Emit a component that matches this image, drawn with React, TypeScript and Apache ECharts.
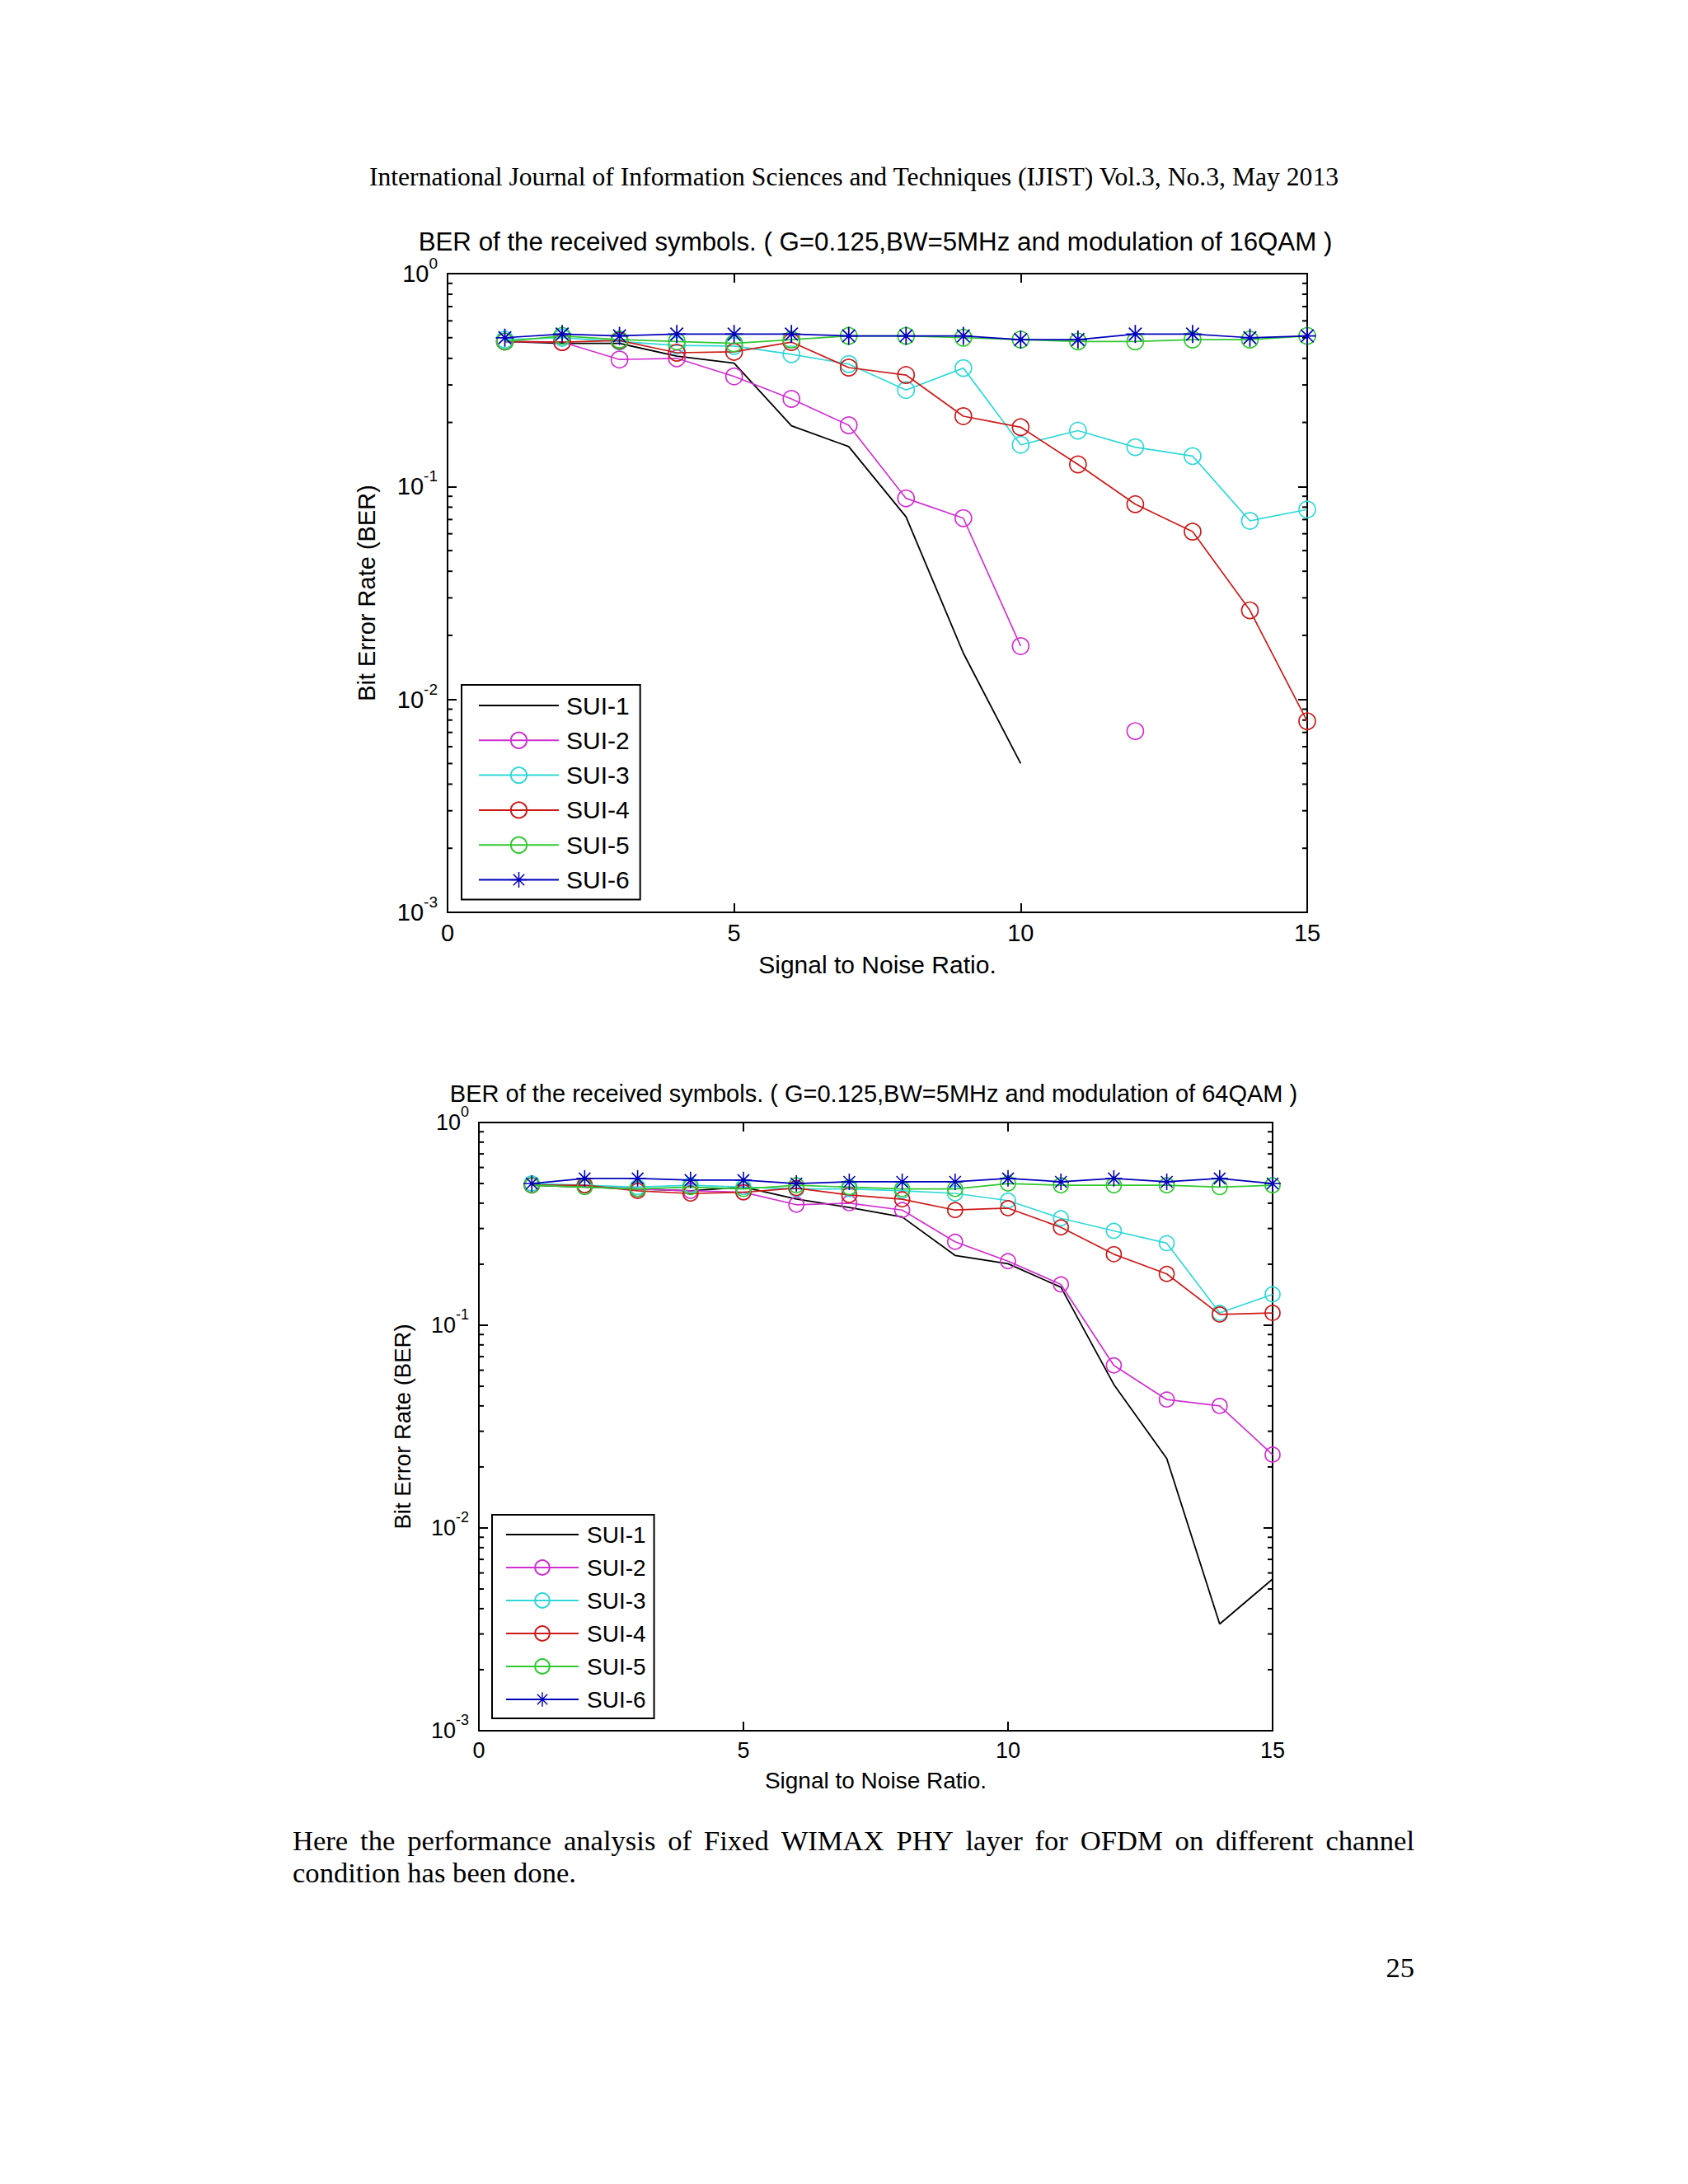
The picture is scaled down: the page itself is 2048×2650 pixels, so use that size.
import React, { useEffect, useRef } from 'react';
import * as echarts from 'echarts';

// ---------------- data ----------------
const snr = [1, 2, 3, 4, 5, 6, 7, 8, 9, 10, 11, 12, 13, 14, 15];
const seriesNames = ['SUI-1', 'SUI-2', 'SUI-3', 'SUI-4', 'SUI-5', 'SUI-6'];

// 16QAM (top chart)
const sui1_16 = [0.48, 0.47, 0.47, 0.41, 0.38, 0.193, 0.154, 0.072, 0.0165, 0.005, null, null, null, null, null];
const sui2_16 = [0.48, 0.477, 0.395, 0.4, 0.329, 0.258, 0.194, 0.088, 0.071, 0.0178, null, 0.0071, null, null, null];
const sui3_16 = [0.49, 0.5, 0.48, 0.46, 0.457, 0.418, 0.376, 0.284, 0.36, 0.157, 0.183, 0.153, 0.139, 0.069, 0.078];
const sui4_16 = [0.48, 0.477, 0.485, 0.425, 0.429, 0.477, 0.362, 0.334, 0.214, 0.19, 0.127, 0.0826, 0.0614, 0.0262, 0.0079];
const sui5_16 = [0.48, 0.51, 0.49, 0.48, 0.47, 0.49, 0.51, 0.51, 0.5, 0.49, 0.48, 0.48, 0.49, 0.49, 0.51];
const sui6_16 = [0.5, 0.52, 0.51, 0.52, 0.52, 0.52, 0.51, 0.51, 0.51, 0.49, 0.49, 0.52, 0.52, 0.5, 0.51];

// 64QAM (bottom chart)
const sui1_64 = [0.49, 0.48, 0.47, 0.46, 0.48, 0.419, 0.381, 0.342, 0.221, 0.201, 0.154, 0.051, 0.022, 0.00336, 0.0056];
const sui2_64 = [0.49, 0.49, 0.47, 0.46, 0.453, 0.393, 0.4, 0.37, 0.258, 0.207, 0.159, 0.0634, 0.043, 0.04, 0.023];
const sui3_64 = [0.5, 0.49, 0.48, 0.49, 0.48, 0.47, 0.47, 0.46, 0.447, 0.412, 0.337, 0.292, 0.254, 0.115, 0.142];
const sui4_64 = [0.49, 0.49, 0.46, 0.446, 0.453, 0.475, 0.439, 0.418, 0.37, 0.378, 0.304, 0.224, 0.179, 0.113, 0.115];
const sui5_64 = [0.49, 0.48, 0.47, 0.48, 0.47, 0.49, 0.48, 0.47, 0.47, 0.5, 0.49, 0.49, 0.49, 0.48, 0.49];
const sui6_64 = [0.5, 0.53, 0.53, 0.52, 0.52, 0.5, 0.51, 0.51, 0.51, 0.53, 0.51, 0.53, 0.51, 0.53, 0.5];

const minorTickValues = [
  0.002, 0.003, 0.004, 0.005, 0.006, 0.007, 0.008, 0.009,
  0.02, 0.03, 0.04, 0.05, 0.06, 0.07, 0.08, 0.09,
  0.2, 0.3, 0.4, 0.5, 0.6, 0.7, 0.8, 0.9,
];

const headerText = 'International Journal of Information Sciences and Techniques (IJIST) Vol.3, No.3, May 2013';
const title16 = 'BER of the received symbols. ( G=0.125,BW=5MHz and modulation of 16QAM )';
const title64 = 'BER of the received symbols. ( G=0.125,BW=5MHz and modulation of 64QAM )';
const xName = 'Signal to Noise Ratio.';
const yName = 'Bit Error Rate (BER)';
const bodyLine1 = 'Here the performance analysis of Fixed WIMAX PHY layer for OFDM on different channel';
const bodyLine2 = 'condition has been done.';
const pageNumber = '25';

// ---------------- styles ----------------
const SANS = '"Liberation Sans", Arial, Helvetica, sans-serif';
const SERIF = '"Liberation Serif", "Times New Roman", serif';
const colors = ['#000000', '#d030d0', '#30d8d8', '#cc1a1a', '#30c830', '#0000bb'];
const STAR =
  'path://M46 0H54V100H46Z M0 46H100V54H0Z M12.2 17.8L17.8 12.2L87.8 82.2L82.2 87.8Z M82.2 12.2L87.8 17.8L17.8 87.8L12.2 82.2Z';

function measure(text: string, font: string) {
  const c = document.createElement('canvas').getContext('2d')!;
  c.font = font;
  return c.measureText(text).width;
}
function fitSize(text: string, family: string, target: number) {
  const w = measure(text, `100px ${family}`);
  return (100 * target) / w;
}

type ChartGeom = {
  left: number; top: number; width: number; height: number;
  tickFont: number; supFont: number; nameFont: number; yNameFont: number;
  xNameGap: number; yNameGap: number; symbolSize: number;
  legend: { left: number; top: number; font: number; itemWidth: number; itemHeight: number; itemGap: number; padding: number[]; textPad: number };
};

const geoms: ChartGeom[] = [
  {
    left: 543, top: 332, width: 1043, height: 775,
    tickFont: 29, supFont: 19, nameFont: 30, yNameFont: 29,
    xNameGap: 48, yNameGap: 84, symbolSize: 20,
    legend: { left: 560, top: 831, font: 30, itemWidth: 97, itemHeight: 24, itemGap: 12.3, padding: [10, 13, 9, 20], textPad: 4 },
  },
  {
    left: 581, top: 1362, width: 963, height: 738,
    tickFont: 27, supFont: 18, nameFont: 28, yNameFont: 27.5,
    xNameGap: 46, yNameGap: 79, symbolSize: 18,
    legend: { left: 597, top: 1838, font: 28, itemWidth: 88, itemHeight: 22, itemGap: 12, padding: [10, 10, 9, 16], textPad: 5 },
  },
];

export default function App() {
  const ref = useRef<HTMLDivElement>(null);

  useEffect(() => {
    if (!ref.current) return;
    const chart = echarts.init(ref.current, undefined, { renderer: 'svg' });

    const datasets = [
      [sui1_16, sui2_16, sui3_16, sui4_16, sui5_16, sui6_16],
      [sui1_64, sui2_64, sui3_64, sui4_64, sui5_64, sui6_64],
    ];

    const grids: any[] = [];
    const xAxes: any[] = [];
    const yAxes: any[] = [];
    const series: any[] = [];
    const legends: any[] = [];

    geoms.forEach((g, gi) => {
      grids.push({ left: g.left, top: g.top, width: g.width, height: g.height, containLabel: false });
      const axisLine = { show: true, onZero: false, lineStyle: { color: '#000', width: 2 } };
      const tick = { show: true, inside: true, length: 11, lineStyle: { color: '#000', width: 2 } };
      xAxes.push({
        type: 'value', gridIndex: gi, position: 'bottom', min: 0, max: 15, interval: 5,
        axisLine, axisTick: tick, splitLine: { show: false },
        axisLabel: { color: '#000', fontFamily: SANS, fontSize: g.tickFont, margin: 10 },
        name: xName, nameLocation: 'middle', nameGap: g.xNameGap,
        nameTextStyle: { color: '#000', fontFamily: SANS, fontSize: g.nameFont },
      });
      xAxes.push({
        type: 'value', gridIndex: gi, position: 'top', min: 0, max: 15, interval: 5,
        axisLine, axisTick: tick, splitLine: { show: false }, axisLabel: { show: false },
      });
      yAxes.push({
        type: 'log', logBase: 10, gridIndex: gi, position: 'left', min: 0.001, max: 1,
        axisLine, axisTick: tick, splitLine: { show: false }, minorTick: { show: false },
        axisLabel: {
          margin: 12,
          formatter: (v: number) => `{b|10}{s|${Math.round(Math.log10(v))}}`,
          rich: {
            b: { fontFamily: SANS, fontSize: g.tickFont, color: '#000', lineHeight: 44 },
            s: { fontFamily: SANS, fontSize: g.supFont, color: '#000', lineHeight: 20, verticalAlign: 'top' },
          },
        },
        name: yName, nameLocation: 'middle', nameGap: g.yNameGap, nameRotate: 90,
        nameTextStyle: { color: '#000', fontFamily: SANS, fontSize: g.yNameFont },
      });
      yAxes.push({
        type: 'log', logBase: 10, gridIndex: gi, position: 'right', min: 0.001, max: 1,
        axisLine, axisTick: tick, splitLine: { show: false }, axisLabel: { show: false },
      });

      const xi = gi * 2;
      const yi = gi * 2;

      // minor log ticks (left and right side)
      series.push({
        type: 'custom', name: 'minor-ticks-' + gi, xAxisIndex: xi, yAxisIndex: yi, silent: true, clip: false, z: 1,
        data: minorTickValues.map((v) => [0, v]),
        renderItem: (_p: any, api: any) => {
          const v = api.value(1);
          const l = api.coord([0, v]);
          const r = api.coord([15, v]);
          const len = 6;
          return {
            type: 'group',
            children: [
              { type: 'line', shape: { x1: l[0], y1: l[1], x2: l[0] + len, y2: l[1] }, style: { stroke: '#000', lineWidth: 2 } },
              { type: 'line', shape: { x1: r[0] - len, y1: r[1], x2: r[0], y2: r[1] }, style: { stroke: '#000', lineWidth: 2 } },
            ],
          };
        },
      });

      datasets[gi].forEach((vals, si) => {
        const color = colors[si];
        const isStar = si === 5;
        const isNone = si === 0;
        series.push({
          type: 'line', name: seriesNames[si], xAxisIndex: xi, yAxisIndex: yi, z: 2 + si,
          data: snr.map((x, i) => [x, vals[i] == null ? '-' : vals[i]]),
          connectNulls: false,
          showSymbol: !isNone,
          symbol: isNone ? 'none' : isStar ? STAR : 'circle',
          symbolSize: isStar ? g.symbolSize + 2 : g.symbolSize,
          lineStyle: { color, width: si === 0 ? 1.8 : 1.7 },
          itemStyle: isNone
            ? { color: 'rgba(0,0,0,0)', borderColor: 'rgba(0,0,0,0)', borderWidth: 0 }
            : isStar
            ? { color, borderWidth: 0 }
            : { color: 'rgba(0,0,0,0)', borderColor: color, borderWidth: 1.7 },
          emphasis: { disabled: true },
        });
      });

      const L = g.legend;
      legends.push({
        data: seriesNames, orient: 'vertical', left: L.left, top: L.top,
        itemWidth: L.itemWidth, itemHeight: L.itemHeight, itemGap: L.itemGap,
        padding: L.padding, borderColor: '#000', borderWidth: 2, backgroundColor: '#fff',
        selectedMode: false,
        textStyle: { color: '#000', fontFamily: SANS, fontSize: L.font, lineHeight: L.font, padding: [0, 0, 0, L.textPad] },
      });
    });

    // ---------- page texts ----------
    const graphics: any[] = [];
    const headerSize = fitSize(headerText, SERIF, 1178);
    graphics.push({
      type: 'text', x: 1036, y: 214,
      style: { text: headerText, font: `${headerSize}px ${SERIF}`, fill: '#000', textAlign: 'center', textVerticalAlign: 'middle', align: 'center', verticalAlign: 'middle' },
    });
    const t16 = fitSize(title16, SANS, 1109);
    graphics.push({
      type: 'text', x: 1062, y: 293,
      style: { text: title16, font: `${t16}px ${SANS}`, fill: '#000', textAlign: 'center', textVerticalAlign: 'middle', align: 'center', verticalAlign: 'middle' },
    });
    const t64 = fitSize(title64, SANS, 1029);
    graphics.push({
      type: 'text', x: 1060, y: 1327,
      style: { text: title64, font: `${t64}px ${SANS}`, fill: '#000', textAlign: 'center', textVerticalAlign: 'middle', align: 'center', verticalAlign: 'middle' },
    });

    // body paragraph, first line justified
    const bodySize = fitSize(bodyLine2, SERIF, 344);
    const bodyFont = `${bodySize}px ${SERIF}`;
    const words = bodyLine1.split(' ');
    const widths = words.map((w) => measure(w, bodyFont));
    const left = 355;
    const right = 1716;
    const gap = (right - left - widths.reduce((a, b) => a + b, 0)) / (words.length - 1);
    let cx = left;
    words.forEach((w, i) => {
      graphics.push({
        type: 'text', x: cx, y: 2233,
        style: { text: w, font: bodyFont, fill: '#000', textAlign: 'left', textVerticalAlign: 'middle', align: 'left', verticalAlign: 'middle' },
      });
      cx += widths[i] + gap;
    });
    graphics.push({
      type: 'text', x: left, y: 2272,
      style: { text: bodyLine2, font: bodyFont, fill: '#000', textAlign: 'left', textVerticalAlign: 'middle', align: 'left', verticalAlign: 'middle' },
    });
    graphics.push({
      type: 'text', x: 1716, y: 2387,
      style: { text: pageNumber, font: bodyFont, fill: '#000', textAlign: 'right', textVerticalAlign: 'middle', align: 'right', verticalAlign: 'middle' },
    });

    chart.setOption({
      animation: false,
      backgroundColor: '#fff',
      grid: grids,
      xAxis: xAxes,
      yAxis: yAxes,
      legend: legends,
      series,
      graphic: graphics,
    });

    return () => chart.dispose();
  }, []);

  return <div ref={ref} style={{ position: 'absolute', left: 0, top: 0, width: 2048, height: 2650, background: '#fff' }} />;
}
